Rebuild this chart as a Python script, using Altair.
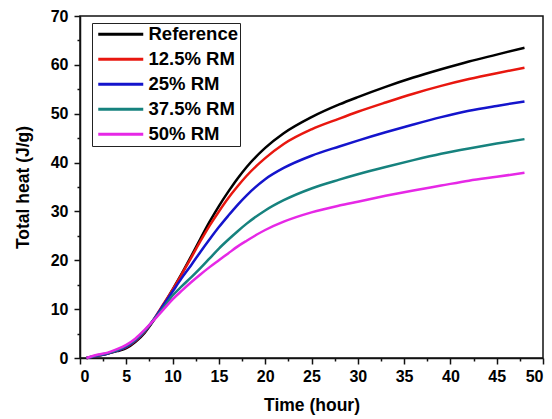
import altair as alt
import pandas as pd

# Hydration time (hours) at which each curve was sampled
time_h = [0.7, 2, 3, 4, 5, 6, 7, 8, 9, 10, 11, 12, 13, 14, 15, 16, 17, 18, 20,
          22, 25, 28, 30, 33, 36, 39, 42, 45, 48]

# Cumulative heat (J/g) for each mix
reference = [0, 0.5, 0.9, 1.4, 2.0, 3.3, 5.2, 7.8, 10.8, 14.0, 17.3, 20.8, 24.4,
             27.9, 31.1, 34.0, 36.7, 39.1, 43.0, 46.0, 49.3, 51.9, 53.4, 55.5,
             57.4, 59.1, 60.7, 62.1, 63.5]
rm_12_5 = [0, 0.5, 0.9, 1.5, 2.2, 3.5, 5.4, 8.0, 11.0, 14.0, 17.2, 20.5, 23.9,
           27.1, 30.0, 32.7, 35.1, 37.3, 40.9, 43.8, 46.8, 49.0, 50.4, 52.3,
           54.1, 55.7, 57.1, 58.3, 59.4]
rm_25 = [0, 0.5, 0.9, 1.5, 2.3, 3.6, 5.5, 8.0, 10.8, 13.6, 16.4, 19.0, 21.7,
         24.3, 26.8, 29.1, 31.3, 33.3, 36.6, 38.9, 41.4, 43.3, 44.5, 46.2, 47.8,
         49.3, 50.6, 51.6, 52.5]
rm_37_5 = [0, 0.6, 1.0, 1.6, 2.5, 3.8, 5.6, 7.9, 10.3, 12.8, 14.7, 16.5, 18.4,
           20.4, 22.4, 24.2, 25.9, 27.5, 30.2, 32.3, 34.7, 36.5, 37.6, 39.1,
           40.5, 41.8, 42.9, 43.9, 44.8]
rm_50 = [0, 0.7, 1.1, 1.8, 2.7, 4.0, 5.8, 7.8, 9.9, 12.0, 13.8, 15.5, 17.1,
         18.6, 20.0, 21.4, 22.8, 24.0, 26.2, 27.9, 29.8, 31.2, 32.0, 33.2, 34.3,
         35.3, 36.3, 37.1, 37.9]

series_names = ["Reference", "12.5% RM", "25% RM", "37.5% RM", "50% RM"]
series_colors = ["#000000", "#e8170f", "#1414cc", "#16827e", "#e628e6"]
series_values = [reference, rm_12_5, rm_25, rm_37_5, rm_50]

rows = []
for name, vals in zip(series_names, series_values):
    for t, v in zip(time_h, vals):
        rows.append({"time": t, "heat": v, "mix": name})
df = pd.DataFrame(rows)

x_ticks = [i * 2.5 for i in range(21)]
y_ticks = [i * 5 for i in range(15)]

FONT = "Liberation Sans"

chart = alt.Chart(df).mark_line(strokeWidth=2.5, interpolate="monotone").encode(
    x=alt.X(
        "time:Q",
        scale=alt.Scale(domain=[0, 50], nice=False),
        axis=alt.Axis(
            title="Time (hour)",
            values=x_ticks,
            labelExpr="datum.value % 5 === 0 ? datum.label : ''",
            tickSize={"condition": {"test": "datum.value % 5 === 0", "value": 6}, "value": 3},
            labelPadding=4,
            titlePadding=12,
        ),
    ),
    y=alt.Y(
        "heat:Q",
        scale=alt.Scale(domain=[0, 70], nice=False),
        axis=alt.Axis(
            title="Total heat (J/g)",
            values=y_ticks,
            labelExpr="datum.value % 10 === 0 ? datum.label : ''",
            tickSize={"condition": {"test": "datum.value % 10 === 0", "value": 6}, "value": 3},
            labelPadding=6,
            titlePadding=18,
        ),
    ),
    color=alt.Color(
        "mix:N",
        scale=alt.Scale(domain=series_names, range=series_colors),
        legend=alt.Legend(
            title=None,
            orient="none",
            legendX=12,
            legendY=7,
            symbolType="M-1,0H8",
            symbolSize=100,
            symbolStrokeWidth=3,
            labelOffset=36,
            labelFont=FONT,
            labelFontSize=18.5,
            labelFontWeight="bold",
            labelColor="#000000",
            strokeColor="#222222",
            padding=2,
            rowPadding=6,
        ),
    ),
    order=alt.Order("time:Q"),
).properties(
    width=463,
    height=342,
    autosize="none",
    padding={"left": 80, "top": 16, "right": 9, "bottom": 61},
).configure_view(
    stroke="#111111",
    strokeWidth=1.5,
).configure_axis(
    grid=False,
    domainColor="#111111",
    domainWidth=1.5,
    tickColor="#111111",
    tickWidth=1.5,
    labelFont=FONT,
    labelFontSize=16,
    labelFontWeight="bold",
    labelColor="#000000",
    titleFont=FONT,
    titleFontSize=17.5,
    titleFontWeight="bold",
    titleColor="#000000",
)

chart.save("out.html", embed_options={"renderer": "svg", "actions": False})
